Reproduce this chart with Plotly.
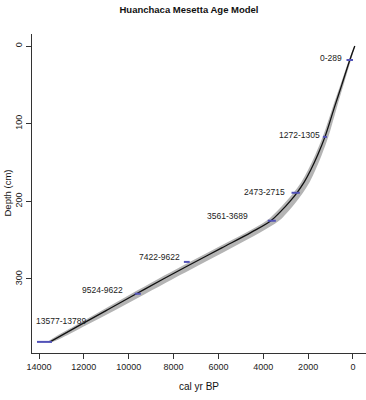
import plotly.graph_objects as go

# ---- data ----
curve_depth = [0, 17, 50, 80, 117, 140, 160, 175, 189, 200, 212, 225, 240, 260, 283, 300, 320, 340, 360, 381]
curve_age = [-80, 130, 500, 840, 1250, 1570, 1890, 2170, 2500, 2810, 3190, 3660, 4540, 5850, 7360, 8460, 9720, 10960, 12220, 13510]
band_young = [20, 50, 80, 110, 150, 180, 210, 240, 270, 300, 330, 360, 400, 430, 440, 430, 410, 370, 300, 110]
band_old = [20, 40, 60, 80, 100, 110, 120, 130, 150, 165, 180, 200, 220, 240, 240, 230, 220, 200, 160, 80]

date_labels = ["0-289", "1272-1305", "2473-2715", "3561-3689", "7422-9622", "9524-9622", "13577-13789"]
date_depth = [18, 117, 189, 225, 278, 319, 381]
date_young = [0, 1160, 2370, 3440, 7280, 9460, 13420]
date_old = [290, 1340, 2740, 3800, 7540, 9730, 14090]

x_ticks = [14000, 12000, 10000, 8000, 6000, 4000, 2000, 0]
y_ticks = [0, 100, 200, 300]

# label offsets (px)
lab_xshift = [-2, -1, -5, -18, -2, -10, -3]
lab_yshift = [2, 2, 1, 5, 5, 4, 21]
lab_anchor = ["right", "right", "right", "right", "right", "right", "left"]

FONT = "Liberation Sans, Arial, sans-serif"
fig = go.Figure()

# uncertainty band
lower = [a - y for a, y in zip(curve_age, band_young)]
upper = [a + o for a, o in zip(curve_age, band_old)]
fig.add_trace(go.Scatter(
    x=upper + lower[::-1], y=curve_depth + curve_depth[::-1],
    fill="toself", fillcolor="#b4b4b4", line=dict(width=0, shape="spline"),
    mode="lines", hoverinfo="skip", showlegend=False))

# model line
fig.add_trace(go.Scatter(x=curve_age, y=curve_depth, mode="lines",
                         line=dict(color="#111111", width=1.3, shape="spline"),
                         showlegend=False))

# dates
for i in range(len(date_labels)):
    fig.add_trace(go.Scatter(x=[date_young[i], date_old[i]], y=[date_depth[i], date_depth[i]],
                             mode="lines", line=dict(color="#5252b8", width=2),
                             showlegend=False))
    fig.add_annotation(x=date_old[i], y=date_depth[i], text=date_labels[i],
                       showarrow=False, xanchor=lab_anchor[i], yanchor="middle",
                       xshift=lab_xshift[i], yshift=lab_yshift[i],
                       font=dict(family=FONT, size=8.5, color="#222222"))

fig.update_layout(
    width=366, height=400,
    margin=dict(l=32, r=0, t=34, b=47),
    paper_bgcolor="white", plot_bgcolor="white",
    showlegend=False,
    title=dict(text="<b>Huanchaca Mesetta Age Model</b>", x=189 / 366, xanchor="center",
               y=1 - 10 / 400, yanchor="middle", yref="container",
               font=dict(family=FONT, size=9.5, color="#111111")),
    font=dict(family=FONT, color="#222222"),
)

fig.update_xaxes(range=[14312, -580], tickvals=x_ticks, ticktext=[str(v) for v in x_ticks],
                 showgrid=False, zeroline=False, showline=True, linecolor="#333333", linewidth=1,
                 ticks="outside", ticklen=5, tickcolor="#333333",
                 tickfont=dict(family=FONT, size=9, color="#222222"))
fig.update_yaxes(range=[395.3, -15.45], tickvals=y_ticks, ticktext=[str(v) for v in y_ticks],
                 showgrid=False, zeroline=False, showline=True, linecolor="#333333", linewidth=1,
                 ticks="outside", ticklen=5, tickcolor="#333333", tickangle=-90,
                 tickfont=dict(family=FONT, size=9, color="#222222"))

fig.add_annotation(text="cal yr BP", xref="paper", yref="paper", x=0.5, y=-(387 - 353) / 319,
                   yanchor="middle", showarrow=False,
                   font=dict(family=FONT, size=10, color="#111111"))
fig.add_annotation(text="Depth (cm)", xref="paper", yref="paper", x=-(32 - 7) / 334, y=0.5,
                   xanchor="center", yanchor="middle", textangle=-90, showarrow=False,
                   font=dict(family=FONT, size=9.5, color="#111111"))

fig.write_html("out.html")
